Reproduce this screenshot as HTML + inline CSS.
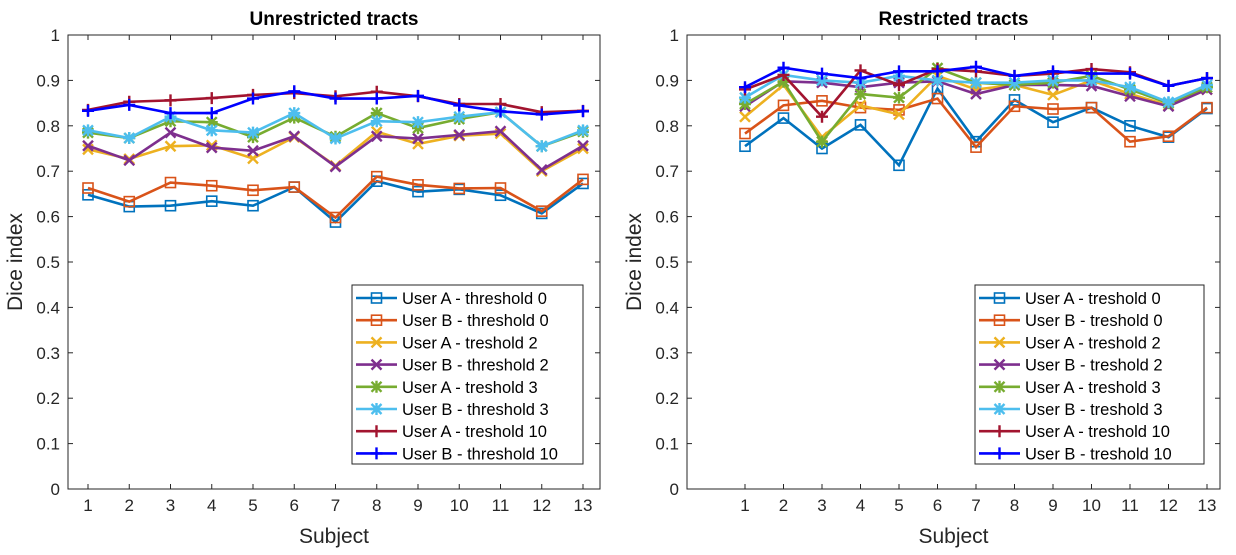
<!DOCTYPE html>
<html><head><meta charset="utf-8"><style>
body{margin:0;background:#fff;}
svg{display:block;font-family:"Liberation Sans",sans-serif;}
</style></head><body>
<svg id="c" width="1236" height="555"></svg>
<script>
const subjects=[1,2,3,4,5,6,7,8,9,10,11,12,13];
const yTicks=[0,0.1,0.2,0.3,0.4,0.5,0.6,0.7,0.8,0.9,1];
const yTickLabels=["0","0.1","0.2","0.3","0.4","0.5","0.6","0.7","0.8","0.9","1"];
const leftA0=[.648,.622,.624,.634,.624,.665,.588,.678,.655,.660,.647,.607,.673];
const leftB0=[.663,.633,.675,.668,.658,.665,.598,.688,.670,.662,.663,.612,.682];
const leftA2=[.748,.727,.755,.757,.728,.775,.712,.787,.760,.778,.783,.700,.750];
const leftB2=[.756,.724,.785,.752,.745,.777,.710,.777,.772,.780,.788,.703,.756];
const leftA3=[.785,.773,.810,.808,.775,.818,.776,.828,.795,.815,.830,.755,.787];
const leftB3=[.790,.773,.820,.790,.785,.828,.772,.810,.808,.820,.830,.755,.790];
const leftA10=[.835,.853,.856,.861,.868,.872,.865,.875,.865,.848,.848,.830,.833];
const leftB10=[.833,.846,.828,.828,.860,.876,.860,.860,.866,.845,.832,.825,.832];
const rightA0=[.755,.817,.750,.802,.713,.882,.765,.857,.808,.840,.800,.775,.838];
const rightB0=[.783,.845,.855,.840,.835,.860,.753,.843,.837,.840,.765,.777,.840];
const rightA2=[.820,.890,.775,.845,.825,.910,.880,.890,.868,.900,.870,.845,.880];
const rightB2=[.843,.898,.895,.885,.895,.898,.870,.890,.890,.888,.865,.843,.880];
const rightA3=[.848,.897,.765,.870,.862,.927,.895,.890,.895,.910,.880,.850,.885];
const rightB3=[.862,.912,.900,.895,.910,.900,.895,.895,.900,.900,.885,.852,.890];
const rightA10=[.880,.912,.820,.922,.890,.925,.920,.910,.915,.925,.918,.888,.905];
const rightB10=[.885,.928,.915,.905,.920,.920,.930,.910,.920,.915,.915,.888,.905];
const leftNames=["User A - threshold 0","User B - threshold 0","User A - treshold 2","User B - threshold 2","User A - treshold 3","User B - threshold 3","User A - treshold 10","User B - threshold 10"];
const rightNames=["User A - treshold 0","User B - treshold 0","User A - treshold 2","User B - treshold 2","User A - treshold 3","User B - treshold 3","User A - treshold 10","User B - treshold 10"];
const colors=["#0072BD","#D95319","#EDB120","#7E2F8E","#77AC30","#4DBEEE","#A2142F","#0000FF"];
const markers=["s","s","x","x","*","*","+","+"];
const NS="http://www.w3.org/2000/svg";
const svg=document.getElementById('c');
function mk(t,a,p){const e=document.createElementNS(NS,t);for(const k in a)e.setAttribute(k,a[k]);(p||svg).appendChild(e);return e;}
function marker(g,type,x,y,c){
  const s=5;
  if(type==="s"){const m=mk('rect',{x:x-s,y:y-s,width:2*s,height:2*s,fill:'none',stroke:c,'stroke-width':1.6},g);}
  else{let d="";
    if(type==="x"||type==="*")d+=`M${x-s} ${y-s}L${x+s} ${y+s}M${x-s} ${y+s}L${x+s} ${y-s}`;
    if(type==="+"||type==="*")d+=`M${x-s-1} ${y}L${x+s+1} ${y}M${x} ${y-s-1}L${x} ${y+s+1}`;
    const m=mk('path',{d:d,stroke:c,'stroke-width':2.4,fill:'none'},g);}
}
function panel(cfg){
  const {x0,x1,y0,y1,xs,title,series,names,leg,id}=cfg;
  const g=mk('g',{});
  
  
  const ys=v=>y0+(y1-y0)*v; // y0 = pixel at 0, y1 pixel at 1
  mk('rect',{x:x0,y:y1,width:x1-x0,height:y0-y1,fill:'#fff',stroke:'#262626','stroke-width':1},g);
  yTicks.forEach((v,i)=>{const y=ys(v);
    mk('line',{x1:x0,x2:x0+5,y1:y,y2:y,stroke:'#262626'},g);
    mk('line',{x1:x1,x2:x1-5,y1:y,y2:y,stroke:'#262626'},g);
    const t=mk('text',{x:x0-8,y:y+6,'text-anchor':'end','font-size':17,fill:'#262626'},g);t.textContent=yTickLabels[i];
    });
  subjects.forEach(s=>{const x=xs(s);
    mk('line',{x1:x,x2:x,y1:y0,y2:y0-5,stroke:'#262626'},g);
    mk('line',{x1:x,x2:x,y1:y1,y2:y1+5,stroke:'#262626'},g);
    const t=mk('text',{x:x,y:y0+22,'text-anchor':'middle','font-size':17,fill:'#262626'},g);t.textContent=s;
    });
  const tt=mk('text',{x:(x0+x1)/2,y:25,'text-anchor':'middle','font-size':19,'font-weight':'bold',fill:'#000'},g);tt.textContent=title;
  
  const xl=mk('text',{x:(x0+x1)/2,y:543,'text-anchor':'middle','font-size':21,fill:'#262626'},g);xl.textContent="Subject";
  
  const yl=mk('text',{x:0,y:0,'text-anchor':'middle','font-size':21,fill:'#262626',transform:`translate(${x0-46},${(y0+y1)/2}) rotate(-90)`},g);yl.textContent="Dice index";
  
  series.forEach((d,i)=>{
    const sg=mk('g',{},g);
    
    
    mk('polyline',{points:d.map((v,j)=>xs(subjects[j])+','+ys(v)).join(' '),fill:'none',stroke:colors[i],'stroke-width':2.6},sg);
    d.forEach((v,j)=>marker(sg,markers[i],xs(subjects[j]),ys(v),colors[i]));
  });
  const lg=mk('g',{},g);
  
  
  mk('rect',{x:leg[0],y:285,width:leg[1]-leg[0],height:179,fill:'#fff',stroke:'#262626','stroke-width':1},lg);
  names.forEach((n,i)=>{const y=298+i*22.2;
    const e=mk('g',{},lg);
    
    
    mk('line',{x1:leg[0]+4,x2:leg[0]+45,y1:y,y2:y,stroke:colors[i],'stroke-width':2.6},e);
    marker(e,markers[i],leg[0]+24.5,y,colors[i]);
    const t=mk('text',{x:leg[0]+50,y:y+6,'font-size':16.5,fill:'#000'},e);t.textContent=n;});
}
panel({id:'unrestricted-panel',x0:68,x1:600,y0:489,y1:35,xs:s=>88+(s-1)*41.25,title:"Unrestricted tracts",
  series:[leftA0,leftB0,leftA2,leftB2,leftA3,leftB3,leftA10,leftB10],names:leftNames,leg:[352,583]});
panel({id:'restricted-panel',x0:687,x1:1220,y0:489,y1:35,xs:s=>745+(s-1)*38.5,title:"Restricted tracts",
  series:[rightA0,rightB0,rightA2,rightB2,rightA3,rightB3,rightA10,rightB10],names:rightNames,leg:[975,1204]});
</script>
</body></html>
